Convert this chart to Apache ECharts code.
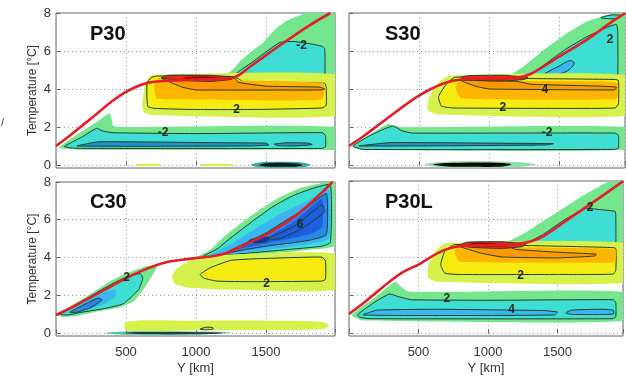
<!DOCTYPE html>
<html><head><meta charset="utf-8">
<script src="https://cdn.jsdelivr.net/npm/echarts@6/dist/echarts.min.js"></script>
<style>html,body{margin:0;padding:0;background:#fff}#c{width:626px;height:376px}</style>
</head><body><div id="c"></div>
<script>
// ---------- axis ticks ----------
const X_TICKS = [0, 500, 1000, 1500];
const Y_TICKS = [0, 2, 4, 6, 8];
const TITLES = ['P30', 'S30', 'C30', 'P30L'];

// ---------- mean temperature profiles (red lines) [Y km, T] ----------
const p30Red = [[0,1.0],[100,1.55],[200,2.15],[300,2.75],[400,3.35],[500,3.85],[600,4.2],[700,4.38],[850,4.45],[1000,4.5],[1150,4.52],[1270,4.6],[1400,5.25],[1600,6.3],[1800,7.3],[1960,8.0]];
const s30Red = [[0,1.0],[100,1.5],[200,2.05],[300,2.6],[400,3.15],[500,3.65],[600,4.05],[700,4.35],[800,4.5],[1000,4.55],[1200,4.6],[1300,4.8],[1500,5.7],[1700,6.6],[1900,7.65],[1975,8.0]];
const c30Red = [[0,0.95],[100,1.3],[200,1.7],[300,2.1],[400,2.5],[500,2.9],[600,3.25],[700,3.55],[800,3.77],[900,3.88],[1000,3.97],[1100,4.05],[1200,4.2],[1300,4.5],[1400,4.85],[1500,5.2],[1600,5.65],[1700,6.15],[1800,6.75],[1900,7.45],[1975,8.0]];
const p30lRed = [[0,1.0],[100,1.55],[200,2.15],[300,2.75],[400,3.25],[500,3.6],[600,4.05],[700,4.4],[800,4.57],[1000,4.62],[1200,4.68],[1300,4.8],[1400,5.1],[1600,6.1],[1800,7.1],[1975,8.0]];

// ---------- P30 anomaly regions ----------
const p30UpG = [[1190,4.62],[1260,5.0],[1320,5.5],[1400,6.0],[1480,6.45],[1560,7.1],[1650,7.6],[1750,7.9],[1830,8.1],[2000,8.1],[2000,4.6]];
const p30UpC = [[1260,4.62],[1330,5.05],[1400,5.4],[1500,5.95],[1600,6.45],[1700,6.5],[1800,6.4],[1900,6.25],[1920,6.1],[1920,4.7],[1900,4.62]];
const p30YG = [[680,4.72],[640,4.3],[615,3.2],[630,2.75],[700,2.62],[2000,2.6],[2000,4.75]];
const p30Y = [[720,4.68],[1270,4.65],[1350,4.35],[1920,4.3],[1930,4.1],[1930,3.15],[1900,3.0],[1400,2.92],[1000,2.92],[700,2.98],[655,3.1],[650,4.3],[680,4.6]];
const p30Or = [[730,4.55],[700,4.2],[720,3.5],[1000,3.45],[1900,3.45],[1910,4.3],[1300,4.45]];
const p30Or4 = [[760,4.55],[900,4.1],[1000,3.95],[1900,3.95],[1920,4.0],[1880,4.1],[1500,4.15],[1300,4.35],[1280,4.55]];
const p30R5 = [[750,4.58],[900,4.45],[1100,4.4],[1250,4.5],[1270,4.6],[1100,4.72],[800,4.72]];
const p30R6 = [[900,4.55],[1100,4.48],[1200,4.55],[1100,4.65],[950,4.65]];
const p30LoG = [[20,0.9],[150,1.6],[300,2.3],[380,2.72],[395,2.5],[410,2.05],[500,2.0],[2000,2.0],[2000,0.82],[1900,0.8],[150,0.8],[60,0.85]];
const p30LoC = [[60,0.98],[180,1.45],[290,1.93],[330,1.8],[400,1.7],[1000,1.65],[1900,1.7],[1925,1.55],[1925,0.95],[1900,0.87],[200,0.87],[100,0.9]];
const p30LoB1 = [[150,1.0],[300,1.22],[800,1.2],[1200,1.17],[1500,1.15],[1520,1.05],[1400,1.0],[600,0.98]];
const p30LoB2 = [[1560,1.1],[1650,1.17],[1800,1.15],[1830,1.07],[1700,1.0],[1580,1.02]];
const p30BtY1 = [[570,0.05],[650,0.07],[740,0.05],[740,-0.04],[650,-0.05],[570,-0.04]];
const p30BtY2 = [[1040,0.05],[1150,0.07],[1260,0.05],[1260,-0.04],[1150,-0.05],[1040,-0.04]];
const p30BtHalo = [[1390,0.0],[1450,0.13],[1600,0.17],[1760,0.13],[1820,0.0],[1760,-0.12],[1600,-0.15],[1450,-0.12]];
const p30BtDark = [[1450,0.0],[1500,0.09],[1600,0.12],[1720,0.08],[1760,0.0],[1720,-0.08],[1600,-0.1],[1500,-0.08]];
const p30Labels = [[1290,2.9,'2'],[765,1.68,'-2'],[1755,6.3,'-2']];

// ---------- S30 anomaly regions ----------
const s30UpG = [[1150,4.65],[1250,5.2],[1400,6.1],[1550,6.9],[1700,7.55],[1850,7.9],[2000,8.0],[2000,4.6]];
const s30UpC = [[1280,4.62],[1400,5.3],[1550,6.1],[1700,6.75],[1830,7.2],[1910,7.4],[1920,7.0],[1920,4.7],[1900,4.62]];
const s30UpB = [[1390,4.75],[1500,5.2],[1580,5.5],[1610,5.35],[1560,4.95],[1450,4.7]];
const s30UpLoop = [[1800,7.75],[1880,7.9],[1950,7.85],[1900,7.7]];
const s30YG = [[720,4.7],[640,4.35],[570,3.5],[560,2.9],[640,2.65],[2000,2.62],[2000,4.7]];
const s30Y = [[760,4.62],[700,4.3],[640,3.6],[660,3.1],[750,3.0],[1500,2.98],[1900,3.0],[1925,3.2],[1925,4.45],[1900,4.5],[1300,4.55]];
const s30Or = [[790,4.4],[760,4.1],[800,3.5],[1900,3.45],[1920,3.6],[1920,4.3],[1850,4.4]];
const s30Or4 = [[800,4.45],[900,4.15],[1000,4.0],[1900,3.95],[1910,4.1],[1800,4.15],[1300,4.25],[1200,4.4]];
const s30R5 = [[800,4.6],[900,4.45],[1100,4.42],[1250,4.5],[1280,4.6],[1100,4.72],[850,4.7]];
const s30R6 = [[900,4.55],[1000,4.48],[1150,4.52],[1050,4.62]];
const s30LoG = [[20,0.95],[150,1.6],[280,2.15],[330,2.05],[400,1.98],[2000,1.98],[2000,0.82],[100,0.8]];
const s30LoC = [[30,1.0],[150,1.55],[310,2.05],[380,1.8],[450,1.68],[1900,1.68],[1925,1.55],[1925,0.9],[1900,0.82],[100,0.82]];
const s30LoB = [[70,1.0],[300,1.18],[1000,1.15],[1460,1.12],[1400,1.05],[500,1.0]];
const s30BtHalo = [[540,0.02],[650,0.15],[900,0.2],[1200,0.15],[1340,0.02],[1200,-0.12],[900,-0.15],[650,-0.12]];
const s30BtDark = [[600,0.02],[700,0.1],[900,0.13],[1100,0.1],[1160,0.02],[1100,-0.08],[900,-0.1],[700,-0.08]];
const s30Labels = [[1100,3.0,'2'],[1400,3.95,'4'],[1415,1.68,'-2'],[1865,6.6,'2']];

// ---------- C30 anomaly regions ----------
const c30LwG = [[0,0.95],[200,1.85],[400,2.8],[550,3.3],[650,3.55],[720,3.5],[650,2.6],[560,1.7],[450,1.35],[300,1.15],[150,0.9],[50,0.85]];
const c30LwC = [[30,1.0],[200,1.75],[400,2.6],[500,2.95],[600,3.15],[620,2.9],[590,2.3],[480,1.55],[350,1.3],[200,1.12],[80,0.95]];
const c30LwL = [[80,1.05],[200,1.6],[330,2.1],[420,2.3],[430,2.0],[350,1.55],[200,1.2]];
const c30LwB = [[100,1.1],[200,1.5],[300,1.85],[330,1.75],[250,1.35],[150,1.1]];
const c30UpG = [[1000,4.0],[1100,4.4],[1200,5.1],[1300,5.7],[1450,6.5],[1600,7.2],[1750,7.7],[1900,7.95],[2000,8.1],[2000,4.65],[1800,4.4],[1500,4.2],[1200,4.08]];
const c30UpC = [[1050,4.05],[1150,4.45],[1250,5.05],[1400,5.9],[1550,6.7],[1700,7.3],[1850,7.7],[1960,7.85],[1960,4.8],[1900,4.6],[1700,4.45],[1400,4.25],[1150,4.1]];
const c30UpL = [[1100,4.1],[1250,4.7],[1400,5.4],[1600,6.3],[1800,7.0],[1950,7.6],[1950,5.0],[1800,4.7],[1500,4.4],[1200,4.15]];
const c30UpB = [[1200,4.2],[1350,4.75],[1500,5.3],[1650,6.0],[1800,6.7],[1930,7.4],[1940,6.8],[1930,5.2],[1800,4.9],[1500,4.6],[1300,4.35]];
const c30UpB5 = [[1300,4.45],[1500,5.05],[1700,5.9],[1900,7.1],[1900,5.6],[1800,5.2],[1500,4.75]];
const c30UpB6 = [[1500,4.95],[1700,5.65],[1900,6.8],[1915,6.4],[1760,5.55],[1600,5.0]];
const c30UpB7 = [[1380,4.9],[1450,5.05],[1520,5.05],[1500,4.85],[1420,4.8]];
const c30YG = [[830,3.0],[850,2.6],[950,2.4],[1200,2.3],[2000,2.3],[2000,4.2],[1100,4.1],[950,3.8],[860,3.4]];
const c30Y = [[1030,3.1],[1100,3.45],[1250,3.85],[1500,3.95],[1900,4.02],[1925,3.8],[1925,2.85],[1900,2.75],[1400,2.72],[1150,2.75],[1060,2.9]];
const c30BtYG = [[500,0.6],[1000,0.65],[1500,0.65],[1900,0.6],[1950,0.4],[1900,0.2],[1000,0.15],[500,0.15]];
const c30BtLoop = [[1030,0.2],[1070,0.3],[1120,0.28],[1120,0.2],[1070,0.17]];
const c30BtHalo = [[350,0.0],[500,0.08],[1000,0.08],[1250,0.03],[1000,-0.08],[500,-0.1]];
const c30BtDark = [[480,0.0],[600,0.05],[1100,0.04],[1200,0.0],[1100,-0.05],[600,-0.06]];
const c30Labels = [[505,2.95,'2'],[1743,5.74,'6'],[1505,2.6,'2']];

// ---------- P30L anomaly regions ----------
const plUpG = [[1120,4.68],[1250,5.2],[1400,5.9],[1550,6.6],[1700,7.3],[1850,7.9],[2000,8.1],[2000,4.68]];
const plUpC = [[1280,4.68],[1400,5.2],[1550,5.95],[1700,6.55],[1800,6.5],[1915,6.4],[1920,6.2],[1920,4.75],[1900,4.68]];
const plYG = [[700,4.72],[620,4.3],[570,3.5],[570,2.9],[640,2.7],[2000,2.68],[2000,4.72]];
const plY = [[760,4.65],[690,4.3],[660,3.6],[690,3.15],[800,3.08],[1500,3.08],[1900,3.1],[1920,3.3],[1920,4.45],[1880,4.5],[1300,4.6]];
const plOr = [[780,4.5],[760,4.2],[800,3.75],[1900,3.7],[1920,3.85],[1920,4.35],[1850,4.45]];
const plOr4 = [[800,4.55],[950,4.2],[1100,4.0],[1500,3.95],[1770,4.05],[1780,4.15],[1500,4.25],[1200,4.4],[1150,4.55]];
const plR5 = [[790,4.6],[900,4.5],[1100,4.45],[1250,4.55],[1270,4.68],[1100,4.8],[850,4.78]];
const plR6 = [[850,4.65],[1000,4.55],[1150,4.58],[1050,4.72],[900,4.75]];
const plLoG = [[20,0.95],[200,1.95],[330,2.7],[380,2.4],[420,2.2],[600,2.15],[2000,2.15],[2000,0.65],[100,0.65]];
const plLoC = [[60,0.95],[180,1.6],[290,2.05],[360,1.9],[450,1.75],[1000,1.72],[1900,1.75],[1920,1.6],[1920,0.85],[1900,0.75],[150,0.75],[80,0.82]];
const plLoB1 = [[100,0.95],[200,1.2],[600,1.25],[1000,1.22],[1400,1.18],[1500,1.1],[1480,0.95],[1000,0.92],[400,0.92]];
const plLoB2 = [[1560,1.05],[1600,1.2],[1800,1.25],[1900,1.2],[1905,1.0],[1800,0.97],[1600,0.98]];
const plLabels = [[1735,6.6,'2'],[1235,3.0,'2'],[705,1.78,'2'],[1170,1.25,'4']];

// ---------- styling ----------
const C = {
  g1:'#74E68E', c2:'#3EDED4', l3:'#3AB6F0', b4:'#2A86E8', b5:'#1E5CE0', b6:'#1432B8',
  y1:'#D6F24A', y2:'#F6EC12', o3:'#FFB400', o4:'#FF9800', r5:'#EA2A12', r6:'#9A0000'
};
const STROKE = '#1E3F22';
function L(pts, fill, stroke, smooth){ return {pts, fill, stroke: !!stroke, smooth: smooth == null ? 0.15 : smooth}; }

const panels = [
  { red: p30Red, labels: p30Labels, layers: [
    L(p30UpG,C.g1), L(p30UpC,C.c2,1),
    L(p30YG,C.y1), L(p30Y,C.y2,1), L(p30Or,C.o3), L(p30Or4,C.o4,1,0.1), L(p30R5,C.r5,1), L(p30R6,C.r6),
    L(p30LoG,C.g1), L(p30LoC,C.c2,1), L(p30LoB1,'#2390CC',1,0.1), L(p30LoB2,'#2390CC',1),
    L(p30BtY1,C.y1), L(p30BtY2,C.y1), L(p30BtHalo,'#3AA8A0',0,0.3), L(p30BtDark,'#0C2020',0,0.3)
  ]},
  { red: s30Red, labels: s30Labels, layers: [
    L(s30UpG,C.g1), L(s30UpC,C.c2,1), L(s30UpB,C.l3,1,0.3), L(s30UpLoop,C.c2,1,0.3),
    L(s30YG,C.y1), L(s30Y,C.y2,1), L(s30Or,C.o3), L(s30Or4,C.o4,1,0.1), L(s30R5,C.r5,1), L(s30R6,C.r6),
    L(s30LoG,C.g1), L(s30LoC,C.c2,1), L(s30LoB,'#2390CC',1,0.1),
    L(s30BtHalo,'#8EE0A8',0,0.3), L(s30BtDark,'#0A0A0A',0,0.3)
  ]},
  { red: c30Red, labels: c30Labels, layers: [
    L(c30LwG,C.g1), L(c30LwC,C.c2,1), L(c30LwL,C.l3), L(c30LwB,C.b4,1),
    L(c30UpG,C.g1), L(c30UpC,C.c2,1), L(c30UpL,C.l3), L(c30UpB,C.b4,1), L(c30UpB5,C.b5), L(c30UpB6,C.b5,1), L(c30UpB7,C.b6,1,0.3),
    L(c30YG,C.y1), L(c30Y,C.y2,1),
    L(c30BtYG,C.y1,0,0.3), L(c30BtLoop,'#C8E040',1,0.3), L(c30BtHalo,'#50C8A0',0,0.3), L(c30BtDark,'#1A4040',0,0.3)
  ]},
  { red: p30lRed, labels: plLabels, layers: [
    L(plUpG,C.g1), L(plUpC,C.c2,1),
    L(plYG,C.y1), L(plY,C.y2,1), L(plOr,C.o3), L(plOr4,C.o4,1,0.1), L(plR5,C.r5,1), L(plR6,C.r6),
    L(plLoG,C.g1), L(plLoC,C.c2,1), L(plLoB1,C.l3,1,0.1), L(plLoB2,C.l3,1)
  ]}
];

const GRIDS = [
  {left:56, top:13, width:279, height:155},
  {left:349, top:13, width:276, height:155},
  {left:56, top:182, width:279, height:154},
  {left:349, top:181, width:276, height:156}
];
const XMAX = [1993, 1972, 1993, 1972];
const FONT = 'Liberation Sans';

const chart = echarts.init(document.getElementById('c'), null, {renderer:'canvas'});

const grid = GRIDS.map(g => Object.assign({show:true, borderColor:'#666', borderWidth:1, backgroundColor:'#fff', containLabel:false}, g));
const xAxis = GRIDS.map((g,i) => ({
  gridIndex:i, type:'value', min:0, max:XMAX[i], interval:500,
  axisLine:{show:false}, axisTick:{show:true, inside:true, length:4, lineStyle:{color:'#666'}},
  splitLine:{show:true, lineStyle:{type:[1,3], color:'#999', width:1}},
  axisLabel:{show: i>=2, fontFamily:FONT, fontSize:13, color:'#333', margin:10,
    formatter: v => (v===0 || v>1900) ? '' : String(v)},
  name: i>=2 ? 'Y [km]' : '', nameLocation:'middle', nameGap:26,
  nameTextStyle:{fontFamily:FONT, fontSize:13, color:'#333'}
}));
const yAxis = GRIDS.map((g,i) => ({
  gridIndex:i, type:'value', min:-0.16, max:8,
  axisLine:{show:false},
  axisTick:{show:true, inside:true, length:4, lineStyle:{color:'#666'}, customValues:Y_TICKS},
  splitLine:{show:false},
  axisLabel:{show: i%2===0, fontFamily:FONT, fontSize:13, color:'#333', margin:5, customValues:Y_TICKS},
  name: i%2===0 ? 'Temperature [°C]' : '', nameLocation:'middle', nameGap:17, nameRotate:90,
  nameTextStyle:{fontFamily:FONT, fontSize:12, color:'#333'}
}));

const series = [];
panels.forEach((p,i) => {
  // horizontal dotted grid lines at tick values
  series.push({type:'line', xAxisIndex:i, yAxisIndex:i, data:[], z:1, silent:true,
    markLine:{silent:true, symbol:'none', z:1, label:{show:false},
      lineStyle:{type:[1,3], color:'#999', width:1},
      data: Y_TICKS.filter(v=>v<8).map(v=>({yAxis:v}))}});
  series.push({
    type:'custom', xAxisIndex:i, yAxisIndex:i, z:2, silent:true,
    data: p.layers.map((l,k)=>[l.pts[0][0], l.pts[0][1], k]),
    renderItem: (params, api) => {
      const l = p.layers[params.dataIndex];
      const cs = params.coordSys;
      return {type:'group',
        clipPath:{type:'rect', shape:{x:cs.x, y:cs.y, width:cs.width, height:cs.height}},
        children:[{type:'polygon', shape:{points:l.pts.map(q=>api.coord(q)), smooth:l.smooth},
          style:{fill:l.fill, stroke: l.stroke ? STROKE : 'none', lineWidth: l.stroke ? 1 : 0}}]};
    }
  });
  series.push({
    type:'line', xAxisIndex:i, yAxisIndex:i, z:10, silent:true, data:p.red, smooth:0.35,
    showSymbol:false, lineStyle:{color:'#E41E26', width:2.6}
  });
  series.push({
    type:'custom', xAxisIndex:i, yAxisIndex:i, z:11, silent:true,
    data: p.labels.map(l=>[l[0], l[1]]),
    renderItem: (params, api) => {
      const l = p.labels[params.dataIndex];
      const c = api.coord([l[0], l[1]]);
      return {type:'text', x:c[0], y:c[1], style:{text:l[2], fill:'#1a2a1a', font:'bold 12px '+FONT, align:'center', verticalAlign:'middle'}};
    }
  });
});

const titlePos = [[90,24],[385,24],[90,192],[385,192]];
const graphic = TITLES.map((t,i)=>({type:'text', left:titlePos[i][0], top:titlePos[i][1], z:20,
  style:{text:t, font:'bold 20px '+FONT, fill:'#111'}}));
graphic.push({type:'text', left:1, top:117, style:{text:'/', font:'11px '+FONT, fill:'#444'}});

chart.setOption({animation:false, backgroundColor:'#fff', grid, xAxis, yAxis, series, graphic});
</script></body></html>
